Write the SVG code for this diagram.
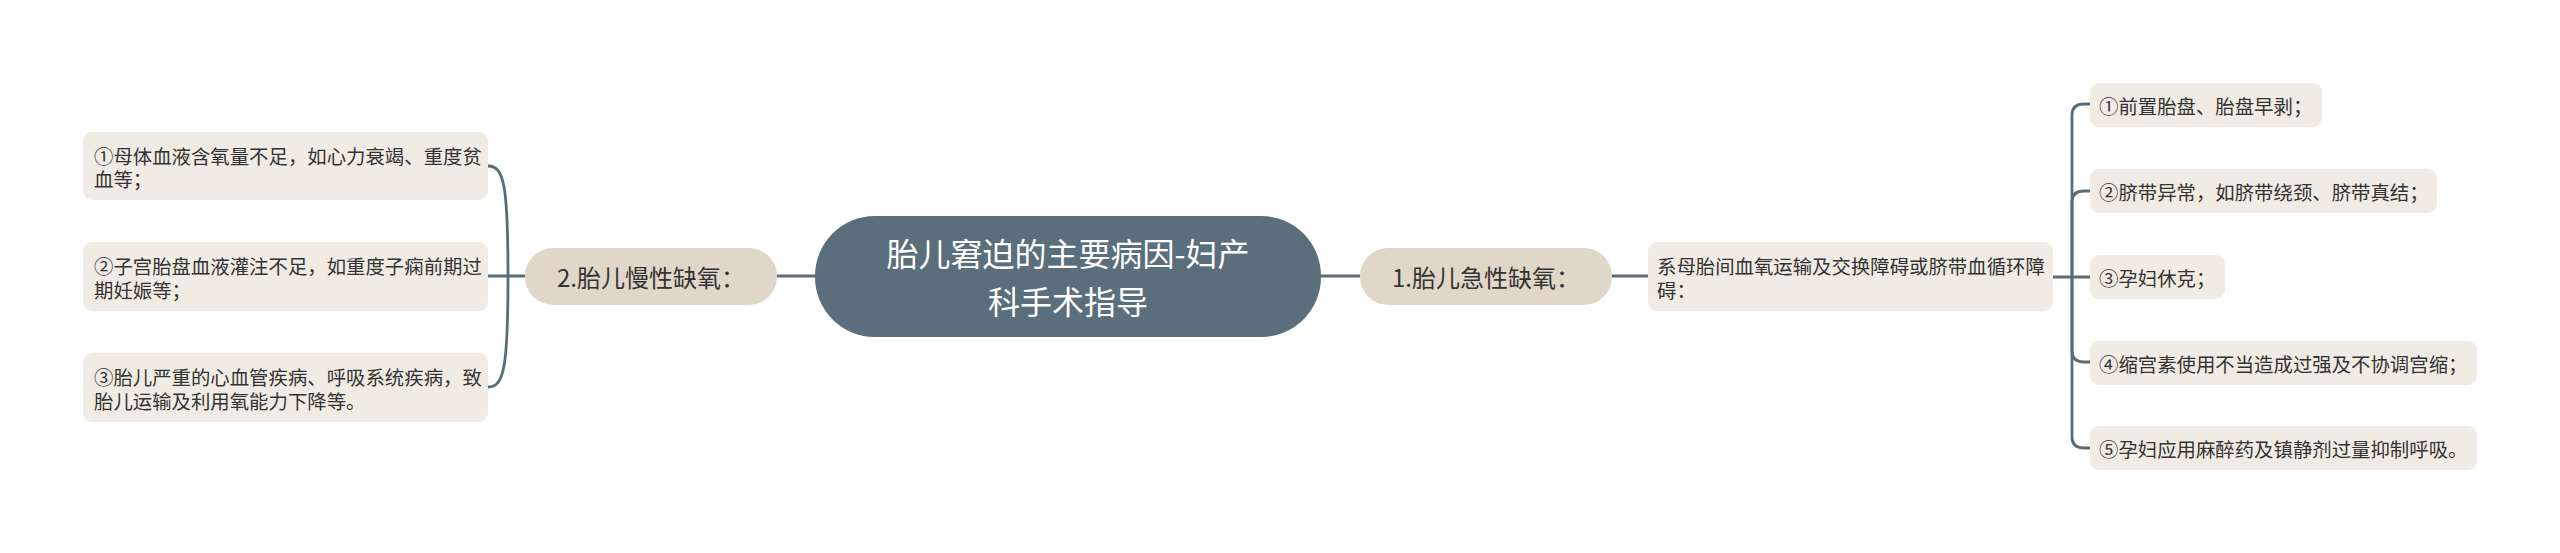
<svg xmlns="http://www.w3.org/2000/svg" width="2560" height="553" viewBox="0 0 2560 553">
<style>
  text { font-family: "Noto Sans CJK SC", "Noto Sans", sans-serif; dominant-baseline: central; }
  .conn { fill: none; stroke: #5c6c77; stroke-width: 2.8; stroke-linecap: round; }
  .root { fill: #5a6e7b; }
  .roott { fill: #ffffff; font-size: 32px; text-anchor: middle; }
  .sub { fill: #e0d7c8; }
  .subt { fill: #333333; font-size: 24px; text-anchor: middle; }
  .leaf { fill: #f0ece4; }
  .leaft { fill: #333333; font-size: 19.4px; }
</style>
<rect x="0" y="0" width="2560" height="553" fill="#ffffff"/>
<g id="connectors">
  <path class="conn" d="M815,276 L777,276"/>
  <path class="conn" d="M1321,276 L1360,276"/>
  <path class="conn" d="M525,276 L488,276"/>
  <path class="conn" d="M508,276 C508,185 504,166 488,166"/>
  <path class="conn" d="M508,276 C508,368 504,387 488,387"/>
  <path class="conn" d="M1612,276 L1648,276"/>
  <path class="conn" d="M2053,277 L2090,277"/>
  <path class="conn" d="M2072,277 L2072,115 Q2072,104 2084,104 L2090,104"/>
  <path class="conn" d="M2072,277 L2072,202 Q2072,191 2084,191 L2090,191"/>
  <path class="conn" d="M2072,277 L2072,351 Q2072,362 2084,362 L2090,362"/>
  <path class="conn" d="M2072,277 L2072,437 Q2072,448 2084,448 L2090,448"/>
</g>
<g id="root">
  <rect class="root" x="815" y="216" width="506" height="121" rx="60" ry="60"/>
  <text class="roott"><tspan x="1068" y="252">胎儿窘迫的主要病因-妇产</tspan><tspan x="1068" y="300">科手术指导</tspan></text>
</g>
<g id="node-chronic">
  <rect class="sub" x="525" y="248" width="252" height="57" rx="28" ry="28"/>
  <text class="subt" x="651" y="276.5">2.胎儿慢性缺氧：</text>
</g>
<g id="node-acute">
  <rect class="sub" x="1360" y="248" width="252" height="57" rx="28" ry="28"/>
  <text class="subt" x="1486" y="276.5">1.胎儿急性缺氧：</text>
</g>
<g id="leaf-l1">
  <rect class="leaf" x="83" y="132" width="405" height="68" rx="9" ry="9"/>
  <text class="leaft"><tspan x="94" y="154.5">①母体血液含氧量不足，如心力衰竭、重度贫</tspan><tspan x="94" y="178">血等；</tspan></text>
</g>
<g id="leaf-l2">
  <rect class="leaf" x="83" y="242" width="405" height="69" rx="9" ry="9"/>
  <text class="leaft"><tspan x="94" y="265">②子宫胎盘血液灌注不足，如重度子痫前期过</tspan><tspan x="94" y="288.5">期妊娠等；</tspan></text>
</g>
<g id="leaf-l3">
  <rect class="leaf" x="83" y="353" width="405" height="69" rx="9" ry="9"/>
  <text class="leaft"><tspan x="94" y="376">③胎儿严重的心血管疾病、呼吸系统疾病，致</tspan><tspan x="94" y="399.5">胎儿运输及利用氧能力下降等。</tspan></text>
</g>
<g id="node-acute-desc">
  <rect class="leaf" x="1648" y="242" width="405" height="69" rx="9" ry="9"/>
  <text class="leaft"><tspan x="1657" y="265">系母胎间血氧运输及交换障碍或脐带血循环障</tspan><tspan x="1657" y="288.5">碍：</tspan></text>
</g>
<g id="leaf-r1">
  <rect class="leaf" x="2090" y="83" width="232" height="44" rx="9" ry="9"/>
  <text class="leaft" x="2099" y="105">①前置胎盘、胎盘早剥；</text>
</g>
<g id="leaf-r2">
  <rect class="leaf" x="2090" y="169" width="347" height="44" rx="9" ry="9"/>
  <text class="leaft" x="2099" y="191">②脐带异常，如脐带绕颈、脐带真结；</text>
</g>
<g id="leaf-r3">
  <rect class="leaf" x="2090" y="255" width="135" height="44" rx="9" ry="9"/>
  <text class="leaft" x="2099" y="277">③孕妇休克；</text>
</g>
<g id="leaf-r4">
  <rect class="leaf" x="2090" y="341" width="387" height="44" rx="9" ry="9"/>
  <text class="leaft" x="2099" y="363">④缩宫素使用不当造成过强及不协调宫缩；</text>
</g>
<g id="leaf-r5">
  <rect class="leaf" x="2090" y="426" width="387" height="44" rx="9" ry="9"/>
  <text class="leaft" x="2099" y="448">⑤孕妇应用麻醉药及镇静剂过量抑制呼吸。</text>
</g>
</svg>
